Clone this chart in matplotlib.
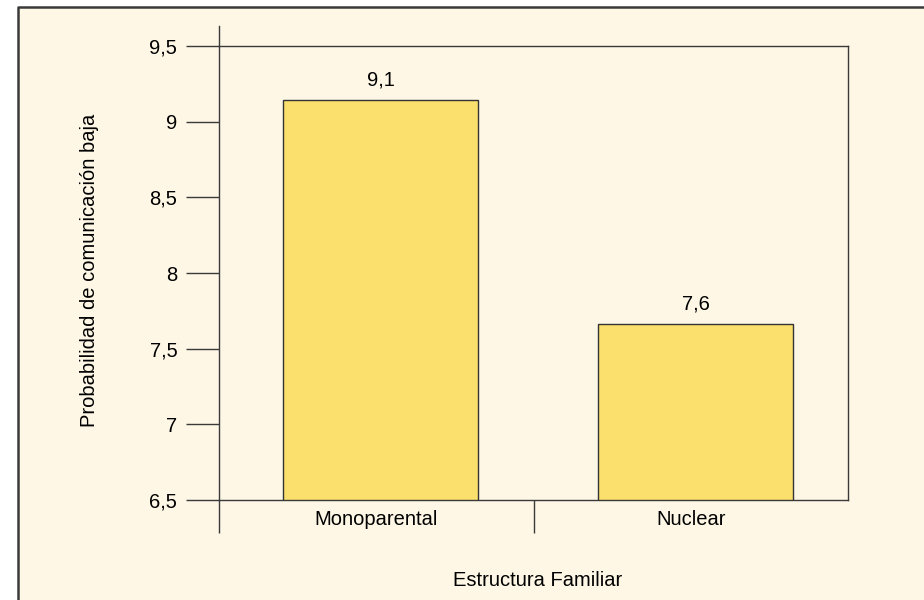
import matplotlib.pyplot as plt
from matplotlib.lines import Line2D
from matplotlib.patches import Rectangle
from matplotlib import font_manager

# data
categorias = ['Monoparental', 'Nuclear']
valores = [9.14, 7.66]
etiquetas = ['9,1', '7,6']
y_ticks = [6.5, 7, 7.5, 8, 8.5, 9, 9.5]
y_tick_labels = ['6,5', '7', '7,5', '8', '8,5', '9', '9,5']

fam = 'Liberation Sans Narrow'
names = {f.name for f in font_manager.fontManager.ttflist}
if fam not in names:
    fam = 'Liberation Sans'
plt.rcParams['font.family'] = [fam, 'DejaVu Sans']
fs = 14.5

W, H = 924, 600
crema = '#fef7e5'
barra = '#fbe06d'
linea = '#3a3a3a'

fig = plt.figure(figsize=(W / 100, H / 100), dpi=100)
fig.patch.set_facecolor('white')
# cream panel with border on left and top only
fig.patches.append(Rectangle((18 / W, 0), 1 - 18 / W, 1 - 7 / H, transform=fig.transFigure,
                             facecolor=crema, edgecolor='none', zorder=-10))
fig.lines.append(Line2D([18 / W, 18 / W, 1], [0, 1 - 7 / H, 1 - 7 / H], transform=fig.transFigure,
                        color=linea, lw=1.8))

ax = fig.add_axes([219 / W, 1 - 500 / H, (848 - 219) / W, (500 - 46) / H])
ax.set_facecolor(crema)

pos = [0.015, 1.015]
ax.bar(pos, [v - 6.5 for v in valores], bottom=6.5, width=0.62, color=barra,
       edgecolor='#333333', linewidth=1.0, zorder=3)
for x, v, t in zip(pos, valores, etiquetas):
    ax.text(x, v + 0.07, t, ha='center', va='bottom', fontsize=fs)

ax.set_xlim(-0.5, 1.5)
ax.set_ylim(6.5, 9.5)
ax.set_yticks(y_ticks)
ax.set_yticklabels(y_tick_labels, fontsize=fs)
ax.tick_params(axis='y', length=24, width=1.0, color=linea, pad=6)

# category labels and separator ticks
ax.set_xticks([0, 1])
ax.set_xticklabels(categorias, fontsize=fs)
ax.tick_params(axis='x', length=0, pad=7)
ax.set_xticks([-0.5, 0.5], minor=True)
ax.tick_params(axis='x', which='minor', length=24, width=1.0, color=linea)

for s in ax.spines.values():
    s.set_color(linea)
    s.set_linewidth(1.0)

# left axis extends above the plot area
ax.plot([0, 0], [1, 1 + 20 / 454], transform=ax.transAxes, color=linea, lw=1.0, clip_on=False)

fig.text(90 / W, 1 - 270 / H, 'Probabilidad de comunicación baja', rotation=90,
         ha='center', va='center', fontsize=fs)
fig.text(538 / W, 1 - 580 / H, 'Estructura Familiar', ha='center', va='center', fontsize=fs)

fig.savefig('out.png', dpi=100, facecolor=fig.get_facecolor())
